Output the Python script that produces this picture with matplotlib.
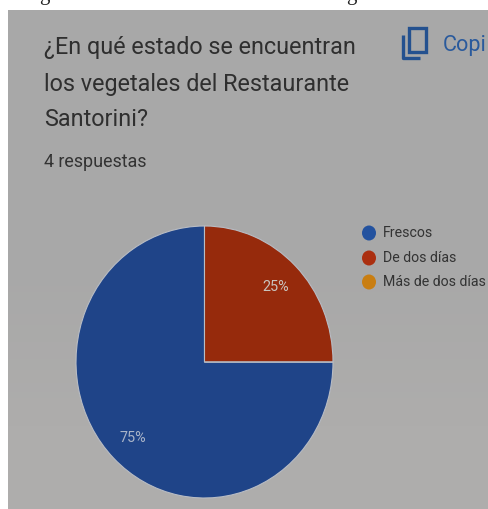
import numpy as np
import matplotlib
matplotlib.use("Agg")
import matplotlib.pyplot as plt
from matplotlib.patches import Rectangle, Ellipse

title_lines = ["¿En qué estado se encuentran", "los vegetales del Restaurante", "Santorini?"]
subtitle = "4 respuestas"
categories = ["Frescos", "De dos días", "Más de dos días"]
values = [75, 25, 0]
colors = ["#1f4488", "#962a0c", "#c27a10"]
legend_colors = ["#23529f", "#ab2f10", "#c97e12"]

W, H = 489, 509
plt.rcParams['font.family'] = ['Roboto', 'DejaVu Sans']
fig = plt.figure(figsize=(W/100, H/100), dpi=100, facecolor="white")

bg = fig.add_axes([0, 0, 1, 1])
bg.set_xlim(0, W); bg.set_ylim(H, 0); bg.axis("off")

# panel, slightly lighter toward the bottom
shade = np.array([[168, 168, 168], [168, 168, 168], [174, 173, 172]], dtype=np.uint8).reshape(3, 1, 3)
bg.imshow(shade, extent=(8, W, H, 10), aspect="auto", interpolation="bilinear", zorder=0)
bg.set_xlim(0, W); bg.set_ylim(H, 0)

# descenders of the cropped caption line above the screenshot
for x in (44, 351):
    bg.text(x, 0, "g", family="Liberation Serif", fontsize=15, color="#222222",
            ha="center", va="baseline", clip_on=True)

for txt, y in zip(title_lines, [47, 84, 119]):
    bg.text(44, y, txt, fontsize=16.8, color="#2f2f2f", va="center", ha="left")
bg.text(44, 162, subtitle, fontsize=12.9, color="#333333", va="center", ha="left")

# copy icon
bg.add_patch(Rectangle((409, 28), 17, 24, fc="none", ec="#24518f", lw=2.4))
bg.plot([402.5, 402.5, 420], [35, 58, 58], color="#24518f", lw=2.4, solid_capstyle="butt")
bg.text(443, 45, "Copi", fontsize=15.6, color="#2a5a9c", va="center", ha="left", clip_on=True)

# pie (elliptical in the reference because the screenshot is stretched)
ax = fig.add_axes([76/W, 1-498/H, 257/W, 272/H])
ax.pie(values, colors=colors, startangle=0, counterclock=False, radius=1,
       wedgeprops=dict(edgecolor="#b8bcc4", linewidth=0.8))
ax.set_aspect("auto")
ax.set_xlim(-1, 1); ax.set_ylim(-1, 1)
ax.text(0.555, 0.55, "25%", color="#c9c3bd", fontsize=10.4, ha="center", va="center")
ax.text(-0.555, -0.56, "75%", color="#a9b4c8", fontsize=10.4, ha="center", va="center")

# legend
for c, col, y in zip(categories, legend_colors, [233, 258, 282]):
    bg.add_patch(Ellipse((369, y), 14, 15, fc=col, ec="none"))
    bg.text(383, y, c, fontsize=10.2, color="#333333", va="center", ha="left")

fig.savefig("out.png", dpi=100)
